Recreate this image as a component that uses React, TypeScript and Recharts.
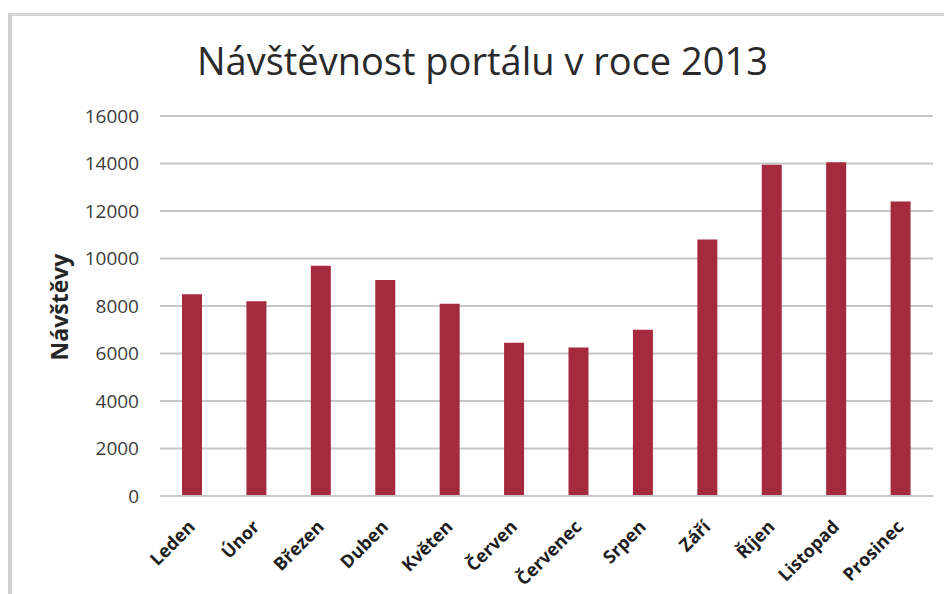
import { BarChart, Bar, XAxis, YAxis, CartesianGrid } from 'recharts';

const months = ['Leden', 'Únor', 'Březen', 'Duben', 'Květen', 'Červen', 'Červenec', 'Srpen', 'Září', 'Říjen', 'Listopad', 'Prosinec'];
const visits = [8500, 8200, 9700, 9100, 8100, 6450, 6250, 7000, 10800, 13950, 14050, 12400];
const yTicks = [0, 2000, 4000, 6000, 8000, 10000, 12000, 14000, 16000];

const chartTitle = 'Návštěvnost portálu v roce 2013';
const yTitle = 'Návštěvy';

const BAR_COLOR = '#A62A3D';
const GRID_COLOR = '#c6c6c6';
const FONT = '"Open Sans", "DejaVu Sans", sans-serif';

function MonthTick({ x, y, payload }: any) {
  return (
    <g transform={`translate(${x + 4},${y + 32})`}>
      <text
        textAnchor="end"
        transform="rotate(-45)"
        fontFamily={FONT}
        fontSize={18}
        fontWeight={700}
        fill="#1e1e1e"
      >
        {payload.value}
      </text>
    </g>
  );
}

export default function App() {
  const data = months.map((m, i) => ({ month: m, visits: visits[i] }));

  return (
    <div style={{ position: 'absolute', left: 0, top: 0, width: 944, height: 594, background: '#fff' }}>
      <svg width={944} height={594} style={{ position: 'absolute', left: 0, top: 0 }}>
        <line x1={8} y1={14.5} x2={944} y2={14.5} stroke="#d6d6d6" strokeWidth={3} />
        <line x1={10} y1={13} x2={10} y2={594} stroke="#d0d0d0" strokeWidth={4} />
        <text
          x={197}
          y={75}
          fontFamily={FONT}
          fontSize={38}
          fill="#2a2a2a"
          textLength={571}
          lengthAdjust="spacingAndGlyphs"
        >
          {chartTitle}
        </text>
        <text
          x={68}
          y={307}
          transform="rotate(-90 68 307)"
          textAnchor="middle"
          fontFamily={FONT}
          fontSize={23}
          fontWeight={700}
          fill="#262626"
        >
          {yTitle}
        </text>
      </svg>
      <div style={{ position: 'absolute', left: 0, top: 0 }}>
        <BarChart
          width={944}
          height={594}
          data={data}
          margin={{ top: 116, right: 11, bottom: 68, left: 80 }}
        >
          <CartesianGrid vertical={false} stroke={GRID_COLOR} strokeWidth={2} />
          <XAxis
            dataKey="month"
            height={30}
            interval={0}
            tickSize={0}
            tickMargin={0}
            tickLine={false}
            axisLine={{ stroke: GRID_COLOR, strokeWidth: 2 }}
            tick={<MonthTick />}
          />
          <YAxis
            width={80}
            domain={[0, 16000]}
            ticks={yTicks}
            axisLine={false}
            tickLine={false}
            tickSize={0}
            tickMargin={21}
            tick={{ fontFamily: FONT, fontSize: 19, fill: '#3c3c3c' }}
          />
          <Bar dataKey="visits" fill={BAR_COLOR} barSize={20} isAnimationActive={false} />
        </BarChart>
      </div>
    </div>
  );
}
